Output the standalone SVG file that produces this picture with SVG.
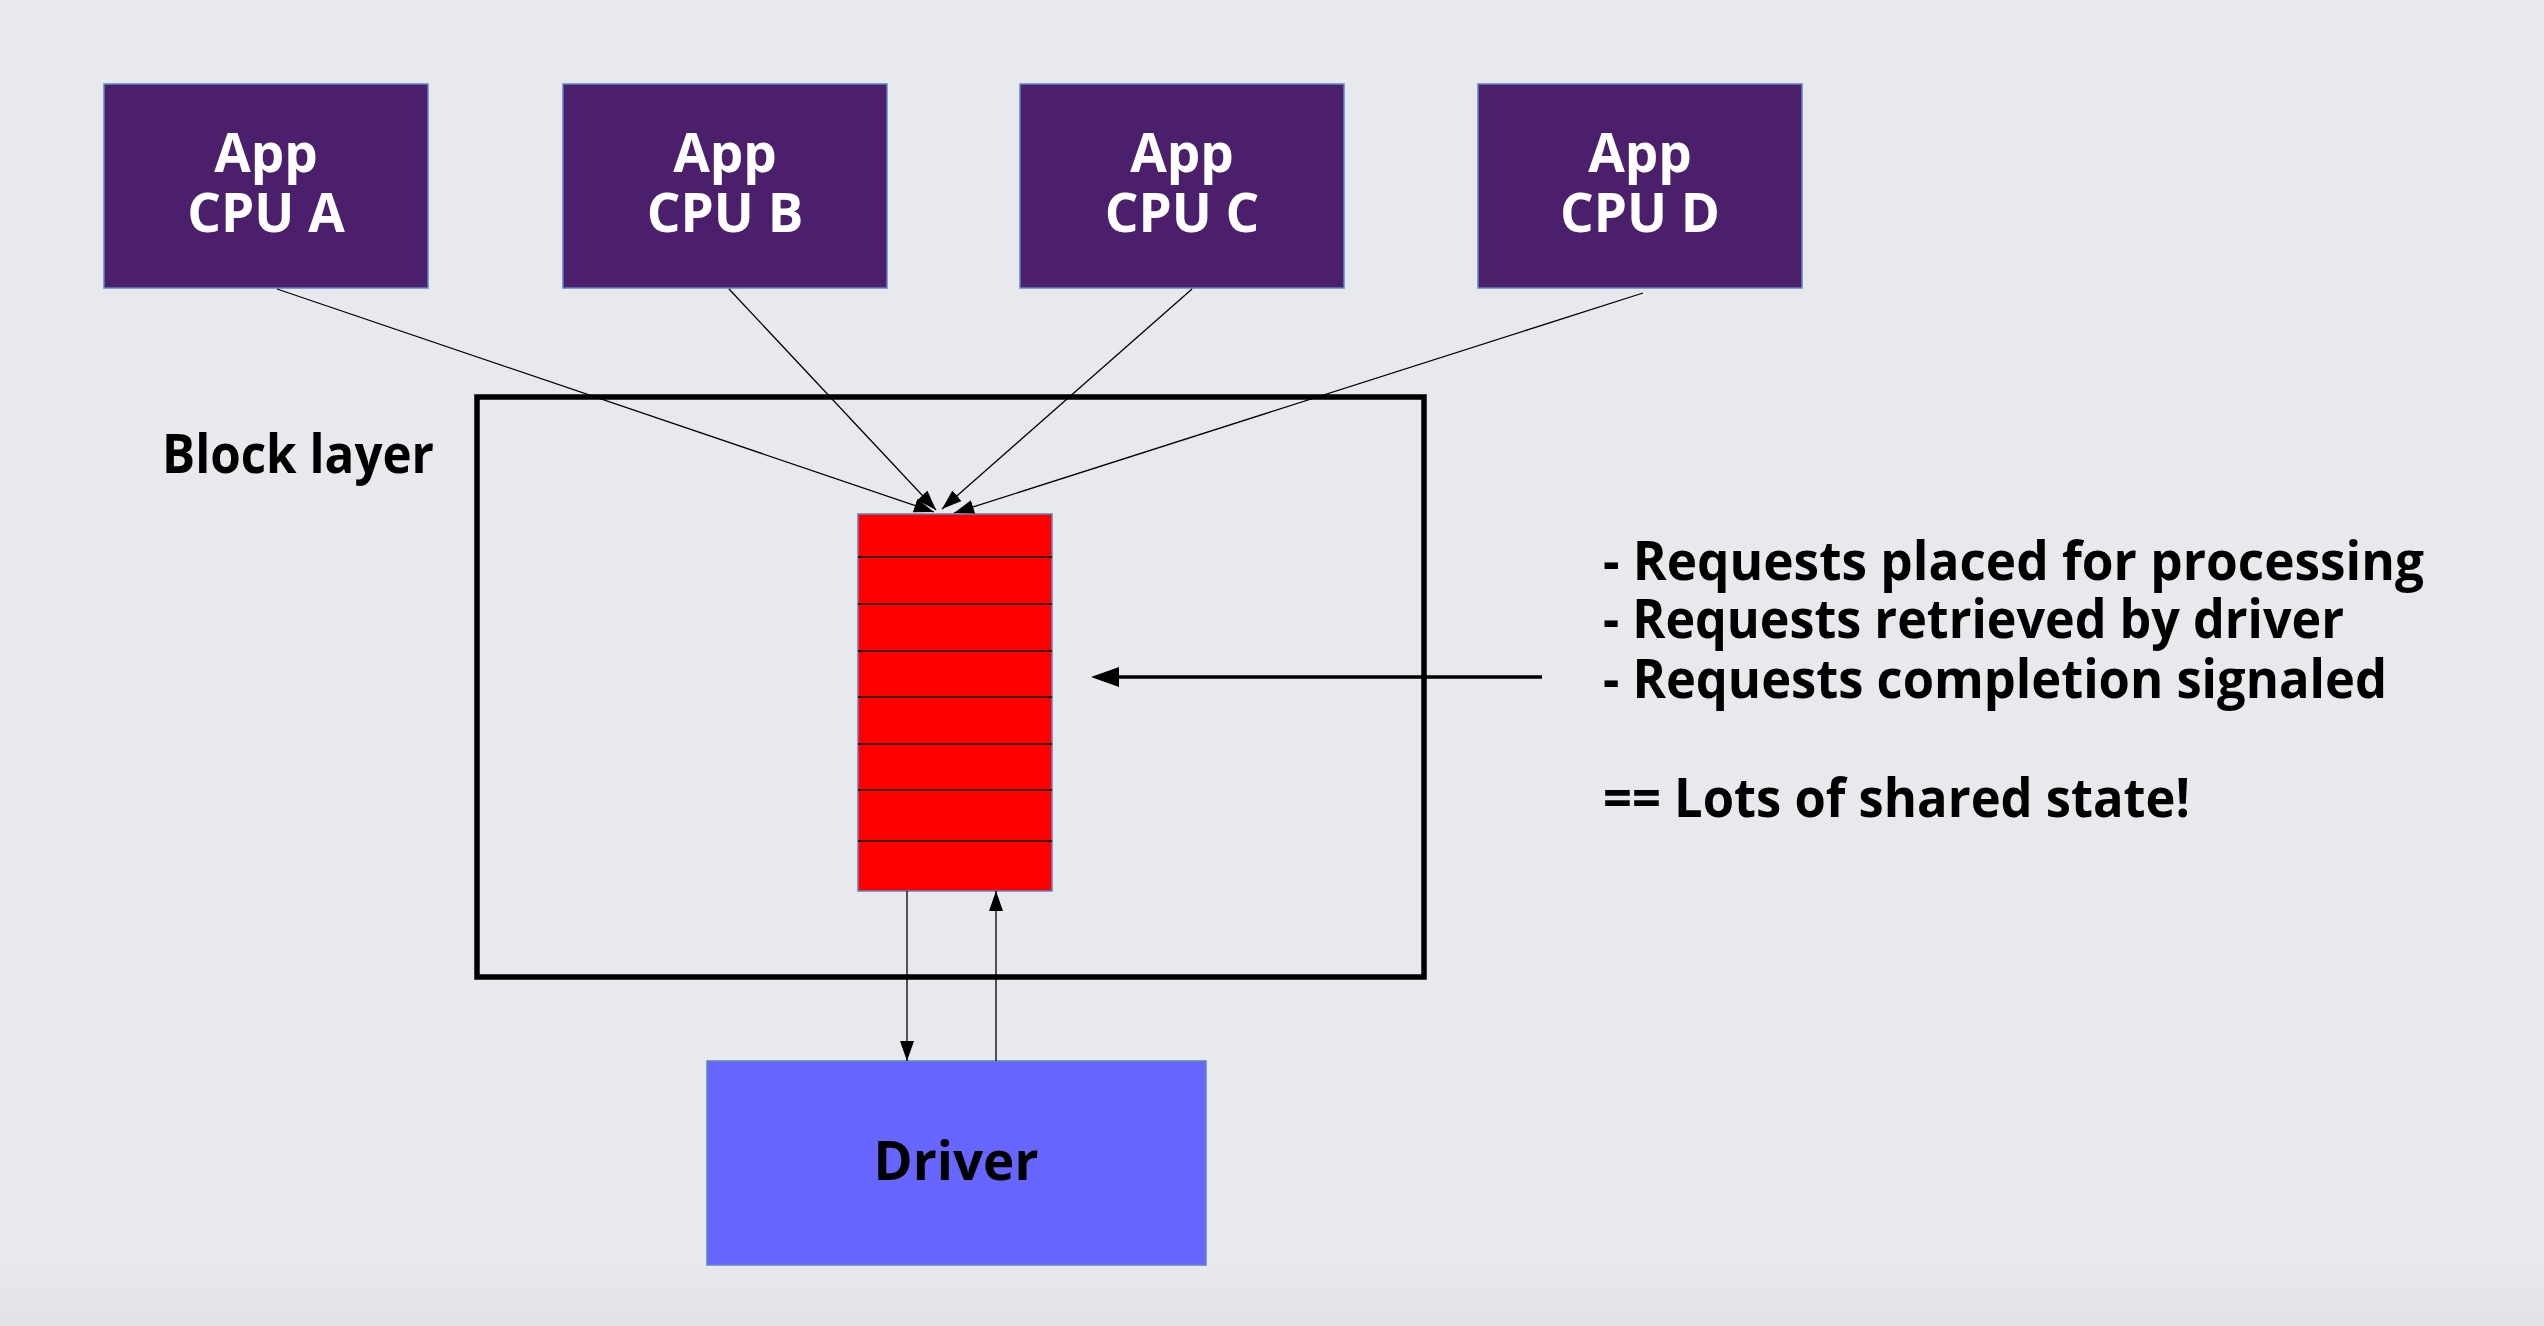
<svg xmlns="http://www.w3.org/2000/svg" width="2544" height="1326" viewBox="0 0 2544 1326">
  <style>
    .cpu rect { fill: #4b1f6b; stroke: #5b86c0; stroke-width: 1.5; }
    .cpu text { fill: #ffffff; font-family: "Open Sans", "Noto Sans", sans-serif; font-weight: bold; font-size: 53px; text-anchor: middle; }
    .lbl { fill: #000000; font-family: "Open Sans", "Noto Sans", sans-serif; font-weight: bold; font-size: 53px; }
    .thin { stroke: #000000; stroke-width: 1.3; fill: none; }
    .slot { stroke: #000000; stroke-width: 1.6; }
  </style>
  <defs>
    <linearGradient id="bg" x1="0" y1="0" x2="0" y2="1">
      <stop offset="0" stop-color="#e8e9ed"/>
      <stop offset="1" stop-color="#e1e2e6"/>
    </linearGradient>
    <marker id="ah" markerUnits="userSpaceOnUse" markerWidth="22" markerHeight="16" refX="20" refY="7" orient="auto">
      <path d="M0,0 L20,7 L0,14 Z" fill="#000000"/>
    </marker>
  </defs>

  <rect x="0" y="0" width="2544" height="1326" fill="#e8e9ed"/>
  <rect x="0" y="1262" width="2544" height="64" fill="url(#bg)"/>

  <g id="block-layer">
    <rect x="477" y="397" width="947" height="580" fill="none" stroke="#000000" stroke-width="5.5"/>
    <text class="lbl" x="162" y="473" font-size="57" textLength="272" lengthAdjust="spacingAndGlyphs">Block layer</text>
  </g>

  <g id="cpu-a" class="cpu">
    <rect x="104" y="84" width="324" height="204"/>
    <text x="266" y="172">App</text>
    <text x="266" y="232">CPU A</text>
  </g>
  <g id="cpu-b" class="cpu">
    <rect x="563" y="84" width="324" height="204"/>
    <text x="725" y="172">App</text>
    <text x="725" y="232">CPU B</text>
  </g>
  <g id="cpu-c" class="cpu">
    <rect x="1020" y="84" width="324" height="204"/>
    <text x="1182" y="172">App</text>
    <text x="1182" y="232">CPU C</text>
  </g>
  <g id="cpu-d" class="cpu">
    <rect x="1478" y="84" width="324" height="204"/>
    <text x="1640" y="172">App</text>
    <text x="1640" y="232">CPU D</text>
  </g>

  <g id="queue">
    <rect x="858" y="514" width="194" height="377" fill="#ff0000" stroke="#5b86c0" stroke-width="1.5"/>
    <line class="slot" x1="858" y1="557" x2="1052" y2="557"/>
    <line class="slot" x1="858" y1="604" x2="1052" y2="604"/>
    <line class="slot" x1="858" y1="651" x2="1052" y2="651"/>
    <line class="slot" x1="858" y1="697" x2="1052" y2="697"/>
    <line class="slot" x1="858" y1="744" x2="1052" y2="744"/>
    <line class="slot" x1="858" y1="790" x2="1052" y2="790"/>
    <line class="slot" x1="858" y1="841" x2="1052" y2="841"/>
  </g>

  <g id="driver">
    <rect x="707" y="1061" width="499" height="204" fill="#6666ff" stroke="#5b86c0" stroke-width="1.5"/>
    <text class="lbl" x="956" y="1180" text-anchor="middle">Driver</text>
  </g>

  <g id="notes">
    <text class="lbl" x="1603" y="580" textLength="821" lengthAdjust="spacingAndGlyphs">- Requests placed for processing</text>
    <text class="lbl" x="1603" y="638" textLength="741" lengthAdjust="spacingAndGlyphs">- Requests retrieved by driver</text>
    <text class="lbl" x="1603" y="698" textLength="784" lengthAdjust="spacingAndGlyphs">- Requests completion signaled</text>
    <text class="lbl" x="1603" y="817" textLength="587" lengthAdjust="spacingAndGlyphs">== Lots of shared state!</text>
  </g>

  <g id="connectors">
    <line class="thin" x1="277" y1="289" x2="934" y2="512" marker-end="url(#ah)"/>
    <line class="thin" x1="729" y1="289" x2="936" y2="510" marker-end="url(#ah)"/>
    <line class="thin" x1="1192" y1="289" x2="942" y2="509" marker-end="url(#ah)"/>
    <line class="thin" x1="1643" y1="293" x2="954" y2="513" marker-end="url(#ah)"/>
    <line class="thin" x1="907" y1="891" x2="907" y2="1061" marker-end="url(#ah)"/>
    <line class="thin" x1="996" y1="1061" x2="996" y2="891" marker-end="url(#ah)"/>
    <line x1="1542" y1="677" x2="1115" y2="677" stroke="#000000" stroke-width="3.5"/>
    <polygon points="1091,677 1119,667 1119,687" fill="#000000"/>
  </g>
</svg>
